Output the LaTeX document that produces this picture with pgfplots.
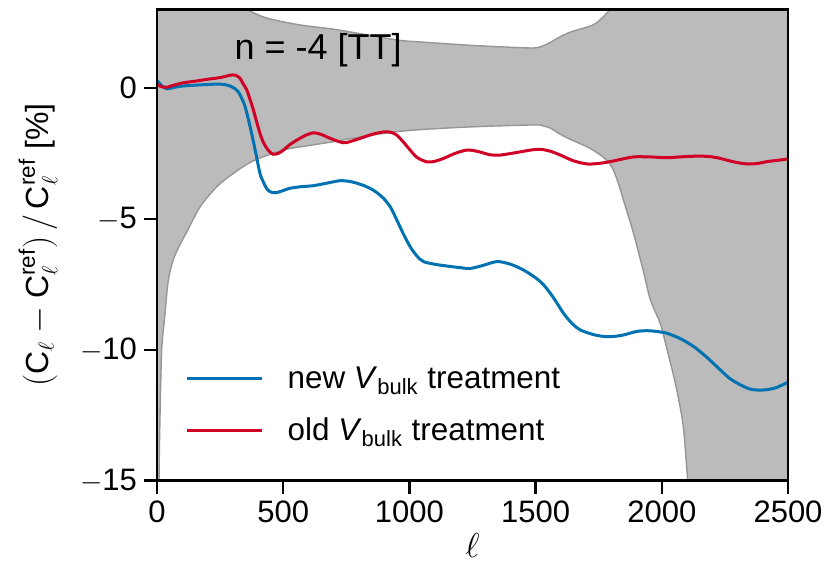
\documentclass[border=0pt]{standalone}
\usepackage{fontspec}
\setmainfont{Liberation Sans}
\usepackage{amsmath}
\usepackage{pgfplots}
\usepackage{pgfplotstable}
\pgfplotsset{compat=1.18}
\usepgfplotslibrary{fillbetween}

\definecolor{newblue}{RGB}{0,114,178}
\definecolor{oldred}{RGB}{208,0,38}
\definecolor{bandfill}{RGB}{187,187,187}
\definecolor{bandedge}{RGB}{150,150,150}

% upper and lower edge of the shaded band
\pgfplotstableread{
l y
2 40
5 20
10 14
20 10
40 7.5
80 5.8
150 4.6
250 3.6
357 3.0
436 2.67
567 2.41
698 2.25
850 2.0
963 1.82
1043 1.76
1229 1.64
1350 1.58
1491 1.53
1531 1.62
1560 1.75
1586 1.9
1638 2.14
1705 2.33
1735 2.45
1757 2.62
1790 2.95
1830 3.5
1900 4.5
2100 8
2500 12
}\bandup

\pgfplotstableread{
l y
2 -60
5 -20
8 -15
12 -12.5
18.6 -10
30 -8.8
44 -7.4
63 -6.6
90 -6.0
118 -5.5
170 -4.55
237 -3.77
303 -3.26
382 -2.78
500 -2.37
600 -2.2
698 -2.05
850 -1.8
1000 -1.62
1229 -1.49
1491 -1.41
1530 -1.45
1558 -1.53
1590 -1.72
1626 -1.91
1705 -2.25
1740 -2.45
1768 -2.64
1790 -2.85
1808 -3.13
1830 -3.7
1848 -4.28
1888 -5.55
1927 -7.0
1955 -8.1
1994 -9.0
2021 -10.0
2047 -11.0
2067 -11.9
2086 -13.0
2102 -14.9
2130 -18
2160 -22
2500 -22
}\bandlo

\pgfplotstableread{
l y
2 0.25
5 0.24
20 0.08
40 -0.03
70 0.03
104 0.08
170 0.12
237 0.15
270 0.13
289 0.08
310 -0.03
322 -0.14
336 -0.4
349 -0.71
369 -1.48
389 -2.37
408 -3.26
422 -3.6
435 -3.85
450 -3.97
468 -4.0
490 -3.95
527 -3.83
570 -3.77
620 -3.73
680 -3.62
726 -3.54
770 -3.58
818 -3.72
860 -3.92
897 -4.21
925 -4.55
950 -5.04
975 -5.55
1003 -6.06
1030 -6.42
1056 -6.63
1100 -6.73
1149 -6.8
1200 -6.86
1241 -6.89
1290 -6.78
1347 -6.63
1400 -6.73
1452 -6.95
1500 -7.25
1532 -7.52
1570 -8.0
1611 -8.61
1645 -9.0
1677 -9.24
1730 -9.42
1783 -9.5
1840 -9.45
1900 -9.3
1942 -9.27
1980 -9.3
2021 -9.37
2075 -9.58
2127 -9.88
2180 -10.3
2232 -10.77
2270 -11.1
2312 -11.34
2350 -11.5
2391 -11.54
2430 -11.5
2457 -11.43
2500 -11.24
}\newtreat

\pgfplotstableread{
l y
2 0.15
5 0.11
25 0.03
40 0.03
70 0.12
104 0.2
150 0.26
197 0.33
250 0.4
296 0.5
315 0.47
329 0.37
342 0.15
356 -0.08
369 -0.45
382 -0.84
395 -1.3
408 -1.73
420 -2.05
435 -2.3
448 -2.45
461 -2.53
480 -2.5
501 -2.37
525 -2.17
554 -1.99
590 -1.8
620 -1.71
650 -1.77
686 -1.92
739 -2.09
780 -2.0
818 -1.88
860 -1.75
904 -1.67
930 -1.7
950 -1.8
975 -2.05
1003 -2.37
1030 -2.65
1069 -2.82
1100 -2.8
1135 -2.69
1180 -2.5
1228 -2.37
1270 -2.42
1320 -2.55
1360 -2.56
1420 -2.47
1480 -2.37
1519 -2.34
1560 -2.42
1598 -2.56
1650 -2.78
1704 -2.9
1750 -2.88
1796 -2.81
1840 -2.72
1889 -2.63
1950 -2.63
2021 -2.66
2090 -2.62
2153 -2.6
2200 -2.63
2232 -2.69
2290 -2.83
2338 -2.9
2380 -2.88
2417 -2.81
2460 -2.76
2500 -2.71
}\oldtreat

\begin{document}
\begin{tikzpicture}
\begin{axis}[
  scale only axis, width=315.5pt, height=235.6pt,
  xmin=0, xmax=2500, ymin=-15, ymax=3,
  axis on top,
  axis line style={line width=1.25pt},
  scaled ticks=false,
  xtick={0,500,1000,1500,2000,2500},
  xticklabels={0,500,1000,1500,2000,2500},
  ytick={-15,-10,-5,0},
  yticklabels={$-$15,$-$10,$-$5,0},
  tick pos=left, tick align=outside,
  major tick length=6.5pt,
  every tick/.style={black, line width=1.25pt},
  tick label style={font=\fontsize{15.5}{18}\selectfont},
  label style={font=\fontsize{16}{19}\selectfont},
  xlabel={$\ell$},
  ylabel={$(\text{C}_\ell - \text{C}_\ell^{\text{ref}})\,/\,\text{C}_\ell^{\text{ref}}$ [\%]},
  xlabel style={at={(axis description cs:0.5,-0.138)}, anchor=center},
  ylabel style={at={(axis description cs:-0.1886,0.5)}, anchor=center},
  legend cell align=left,
  legend style={draw=none, fill=none, inner sep=0pt,
    at={(axis cs:112,-10.62)}, anchor=north west,
    font=\fontsize{15.7}{19}\selectfont,
    row sep=13.5pt, /tikz/column sep=12pt,
    nodes={inner sep=0pt}},
  legend image code/.code={\draw[#1] (0pt,0pt) -- (37.5pt,0pt);},
]
\addplot[name path=up, draw=none, smooth, forget plot] table[x=l,y=y] {\bandup};
\addplot[name path=lo, draw=none, smooth, forget plot] table[x=l,y=y] {\bandlo};
\addplot[fill=bandfill, draw=none, forget plot] fill between[of=up and lo];
\addplot[draw=bandedge, line width=0.7pt, smooth, forget plot] table[x=l,y=y] {\bandup};
\addplot[draw=bandedge, line width=0.7pt, smooth, forget plot] table[x=l,y=y] {\bandlo};

\addplot[newblue, line width=1.5pt, smooth] table[x=l,y=y] {\newtreat};
\addlegendentry{new \textit{V}\textsubscript{bulk} treatment}
\addplot[oldred, line width=1.5pt, smooth] table[x=l,y=y] {\oldtreat};
\addlegendentry{old \textit{V}\textsubscript{bulk} treatment}

\node[font=\fontsize{18}{21}\selectfont] at (axis cs:638,1.45) {n = -4 [TT]};
\coordinate (sw) at (rel axis cs:0,0);
\coordinate (ne) at (rel axis cs:1,1);
\end{axis}
\pgfresetboundingbox
\path[use as bounding box] ([xshift=-78.5pt,yshift=-41.15pt]sw) rectangle ([xshift=19.5pt,yshift=4.75pt]ne);
\end{tikzpicture}
\end{document}
